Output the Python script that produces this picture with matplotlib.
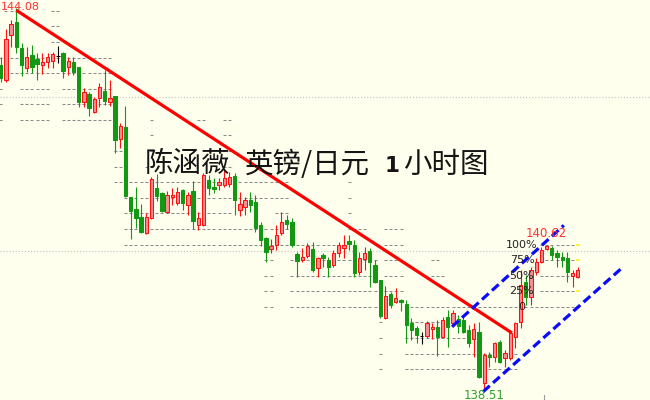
import numpy as np
import matplotlib
matplotlib.use("Agg")
import matplotlib.pyplot as plt
import matplotlib.transforms as mtransforms
from matplotlib.collections import LineCollection

plt.rcParams['lines.scale_dashes'] = False

W, H, DPI = 650, 400, 100
BG = '#ffffee'

# ---------------- data (GBP/JPY 1h candles) ----------------
opens = [143.24, 143.02, 143.68, 143.87, 143.49, 143.20, 143.39, 143.33, 143.24, 143.28,
         143.30, 143.37, 143.42, 143.21, 143.28, 143.21, 142.70, 142.82, 142.55, 142.76,
         142.86, 142.70, 142.79, 142.16, 142.34, 141.31, 141.14, 141.02, 140.79, 141.01,
         141.45, 141.37, 141.09, 141.31, 141.23, 141.42, 141.20, 141.40, 140.91, 140.91,
         141.56, 141.46, 141.49, 141.49, 141.50, 141.62, 141.12, 141.17, 141.27, 141.24,
         140.91, 140.72, 140.55, 140.61, 140.79, 140.98, 140.95, 140.48, 140.39, 140.45,
         140.55, 140.28, 140.47, 140.39, 140.32, 140.50, 140.57, 140.67, 140.61, 140.22,
         140.41, 140.53, 140.32, 140.10, 139.55, 139.90, 139.78, 139.81, 139.75, 139.47,
         139.40, 139.28, 139.28, 139.39, 139.42, 139.27, 139.56, 139.47, 139.53, 139.52,
         139.37, 139.24, 139.34, 138.60, 139.01, 138.98, 139.20, 138.96, 138.96, 139.27,
         139.49, 140.07, 139.85, 140.22, 140.36, 140.55, 140.57, 140.50, 140.44, 140.42,
         140.16, 140.15]
highs = [143.36, 143.77, 143.90, 144.08, 143.56, 143.50, 143.53, 143.42, 143.42, 143.42,
         143.43, 143.52, 143.43, 143.36, 143.36, 143.21, 142.91, 142.85, 142.77, 142.98,
         143.17, 143.02, 142.79, 142.39, 142.64, 141.31, 141.46, 141.21, 141.08, 141.61,
         141.65, 141.39, 141.40, 141.45, 141.46, 141.43, 141.39, 141.55, 141.09, 141.66,
         141.64, 141.59, 141.59, 141.71, 141.68, 141.66, 141.39, 141.31, 141.39, 141.34,
         140.95, 140.73, 140.70, 140.91, 141.09, 141.05, 141.01, 140.51, 140.57, 140.64,
         140.66, 140.44, 140.50, 140.44, 140.54, 140.66, 140.76, 140.76, 140.69, 140.51,
         140.58, 140.57, 140.39, 140.10, 140.01, 139.93, 139.99, 139.82, 139.81, 139.55,
         139.43, 139.34, 139.50, 139.47, 139.52, 139.56, 139.66, 139.66, 139.59, 139.56,
         139.45, 139.47, 139.49, 139.04, 139.05, 139.20, 139.23, 139.08, 139.37, 139.49,
         140.25, 140.18, 140.29, 140.42, 140.58, 140.62, 140.60, 140.54, 140.51, 140.51,
         140.25, 140.29]
lows = [142.99, 142.99, 143.50, 143.42, 143.08, 143.14, 143.12, 143.02, 143.11, 143.20,
        143.20, 143.27, 143.05, 143.10, 143.10, 142.63, 142.63, 142.50, 142.54, 142.63,
        142.66, 142.64, 141.96, 142.03, 141.31, 140.70, 140.86, 140.79, 140.78, 140.99,
        141.26, 141.09, 141.08, 141.20, 141.20, 141.12, 141.05, 140.85, 140.83, 140.89,
        141.34, 141.37, 141.42, 141.46, 141.46, 141.05, 141.04, 141.05, 141.09, 140.80,
        140.60, 140.36, 140.50, 140.54, 140.76, 140.85, 140.58, 140.15, 140.36, 140.42,
        140.22, 140.15, 140.29, 140.15, 140.29, 140.44, 140.42, 140.54, 140.15, 140.18,
        140.25, 140.00, 140.06, 139.55, 139.53, 139.69, 139.77, 139.65, 139.18, 139.23,
        139.18, 139.17, 139.26, 139.24, 138.99, 139.26, 139.12, 139.42, 139.33, 139.33,
        139.12, 138.98, 138.67, 138.51, 138.83, 138.90, 138.89, 138.83, 138.93, 139.11,
        139.40, 139.74, 139.74, 140.18, 140.35, 140.54, 140.39, 140.29, 140.29, 140.07,
        140.00, 140.13]
closes = [143.05, 143.62, 143.84, 143.50, 143.24, 143.36, 143.21, 143.26, 143.28, 143.36,
          143.40, 143.37, 143.15, 143.30, 143.14, 142.70, 142.85, 142.61, 142.74, 142.92,
          142.72, 142.76, 142.15, 142.35, 141.33, 141.11, 141.01, 140.80, 141.02, 141.58,
          141.33, 141.11, 141.34, 141.34, 141.39, 141.23, 141.34, 140.96, 141.01, 141.64,
          141.45, 141.43, 141.53, 141.59, 141.61, 141.27, 141.21, 141.27, 141.20, 140.86,
          140.69, 140.51, 140.60, 140.76, 140.95, 140.92, 140.61, 140.38, 140.44, 140.60,
          140.25, 140.42, 140.42, 140.29, 140.50, 140.61, 140.61, 140.63, 140.20, 140.42,
          140.50, 140.36, 140.07, 139.58, 139.87, 139.74, 139.84, 139.78, 139.45, 139.37,
          139.30, 139.28, 139.47, 139.42, 139.27, 139.52, 139.42, 139.62, 139.43, 139.34,
          139.18, 139.39, 138.69, 139.01, 138.98, 139.18, 138.90, 139.04, 139.33, 139.47,
          140.03, 139.85, 140.25, 140.36, 140.54, 140.60, 140.47, 140.44, 140.39, 140.22,
          140.20, 140.25]

# marked extremes (candle index)
label_top_idx = 3
label_hi_idx = 105
label_lo_idx = 93

# trend line and channel (index, price)
trend_x = [3.0, 98.3]
trend_y = [144.04, 139.33]
chan_up_x = [86.8, 108.3]
chan_up_y = [139.42, 140.90]
chan_lo_x = [92.75, 119.5]
chan_lo_y = [138.47, 140.28]

# Fibonacci retracement
fib_high = 140.62
fib_low = 139.71
fib_ratios = [1.0, 0.75, 0.5, 0.25, 0.0]
fib_labels = ['100%', '75%', '50%', '25%', '0']

# light dotted horizontal lines
dotted_levels = [142.78, 140.53]

# short dashed price-level marks: (level number, first candle, last candle)
level_marks = [
    (0, 1, 3), (0, 10, 11), (1, 10, 11), (2, 10, 11),
    (3, 0, 21), (4, 0, 21),
    (5, 0, 0), (5, 4, 9), (5, 12, 21),
    (6, 0, 0), (6, 4, 9), (6, 12, 21),
    (7, 0, 0), (7, 4, 9), (7, 12, 21), (7, 29, 29), (7, 38, 39), (7, 43, 44),
    (8, 29, 29), (8, 43, 44),
    (9, 22, 23), (9, 29, 29), (9, 43, 44),
    (10, 22, 23), (10, 28, 29), (10, 43, 44),
    (11, 22, 55), (11, 67, 67),
    (12, 24, 55), (12, 67, 67),
    (13, 24, 44), (13, 53, 55), (13, 67, 67),
    (14, 24, 55), (14, 67, 70), (14, 74, 77),
    (15, 24, 66), (15, 74, 77),
    (16, 51, 52), (16, 56, 72), (16, 74, 76), (16, 83, 84),
    (17, 51, 52), (17, 56, 72), (17, 74, 77), (17, 83, 85),
    (18, 51, 52), (18, 56, 72), (18, 74, 77),
    (19, 51, 52), (19, 56, 72), (19, 73, 73), (19, 78, 110),
    (20, 73, 73), (20, 78, 89),
    (21, 73, 73), (21, 78, 91),
    (22, 73, 73), (22, 78, 99),
    (23, 73, 73), (23, 78, 99),
]

title_parts = ['陈涵薇', '英镑/日元', '1', '小时图']

# ---------------- figure ----------------
fig = plt.figure(figsize=(W / DPI, H / DPI), dpi=DPI, facecolor=BG)
ax = fig.add_axes([0, 0, 1, 1])
ax.set_facecolor(BG)
ax.set_xlim(-0.135, 124.87)
ax.set_ylim(138.35, 144.19)
ax.axis('off')

o = np.array(opens); h = np.array(highs); l = np.array(lows); c = np.array(closes)
idx = np.arange(len(o))

# dotted lines
for lv in dotted_levels:
    ax.axhline(lv, color='#c4c4c4', lw=0.9, ls=(0, (0.8, 1.4)), zorder=1)

# level marks
step = (fib_high - fib_low) / 4.0
segs = []
for n, i0, i1 in level_marks:
    lv = fib_high + (15 - n) * step
    for i in range(i0, i1 + 1):
        segs.append([(i - 0.3, lv), (i + 0.3, lv)])
ax.add_collection(LineCollection(segs, colors='#8a8a8a', linewidths=0.75, zorder=1))

# candles
UP_EDGE, UP_FACE = '#ff1010', '#f39090'
DN = '#129812'
for i in idx:
    if c[i] > o[i]:
        ec, fc = UP_EDGE, UP_FACE
    elif c[i] < o[i]:
        ec, fc = DN, DN
    else:
        ec, fc = '#000000', '#000000'
    ax.vlines(i, l[i], h[i], color=ec, lw=0.8, zorder=3)
    bottom = min(o[i], c[i])
    height = max(abs(c[i] - o[i]), 0.004)
    ax.bar(i, height, bottom=bottom, width=0.62, facecolor=fc, edgecolor=ec,
           linewidth=0.75, zorder=4)

# trend line and channel
ax.plot(trend_x, trend_y, color='#ff0000', lw=2.3, zorder=5, solid_capstyle='butt')
ax.plot(chan_up_x, chan_up_y, color='#0a0aff', lw=2.3, ls=(0, (6.5, 3.2)), zorder=6,
        dash_capstyle='butt')
ax.plot(chan_lo_x, chan_lo_y, color='#0a0aff', lw=2.3, ls=(0, (6.5, 3.2)), zorder=6,
        dash_capstyle='butt')

# fibonacci lines and labels
for r, lab in zip(fib_ratios, fib_labels):
    lv = fib_low + r * (fib_high - fib_low)
    if r > 0:
        fsegs = [[(i - 0.3, lv), (i + 0.3, lv)] for i in range(104, 111)]
        ax.add_collection(LineCollection(fsegs, colors='#8a8a8a', linewidths=0.75, zorder=2))
    ax.plot([110.75, 111.2], [lv, lv], color='#ffee00', lw=1.2, zorder=2)
    ax.text(100.25, lv, lab, ha='center', va='center', fontsize=8, color='#222222',
            family='DejaVu Sans', zorder=7)

# price labels
ax.annotate(f"{h[label_top_idx]:.2f}", (label_top_idx, h[label_top_idx]), xytext=(4, 1),
            textcoords='offset pixels', ha='center', va='center', fontsize=8,
            color='#ff3030', zorder=7)
ax.annotate(f"{h[label_hi_idx]:.2f}", (label_hi_idx, h[label_hi_idx]), xytext=(0, 11),
            textcoords='offset pixels', ha='center', va='center', fontsize=8.5,
            color='#ff3030', zorder=7)
ax.annotate(f"{l[label_lo_idx]:.2f}", (label_lo_idx, l[label_lo_idx]), xytext=(0, -6),
            textcoords='offset pixels', ha='center', va='center', fontsize=8.5,
            color='#2ea02e', zorder=7)

# small tick at bottom
trans = mtransforms.blended_transform_factory(ax.transData, ax.transAxes)
ax.plot([104.5, 104.5], [0.0, 0.0125], color='#9a9a9a', lw=0.8, transform=trans, zorder=2)

# title (placed in figure pixels)
def fx(px):
    return px / W

def fy(py):
    return 1 - py / H

cjk = ['Noto Sans CJK SC', 'DejaVu Sans']
base = 172.5
fig.text(fx(145), fy(base), title_parts[0], family=cjk, fontsize=20.5, color='#151515',
         va='baseline', ha='left', weight='light', zorder=10)
fig.text(fx(245), fy(base), title_parts[1], family=cjk, fontsize=20.5, color='#151515',
         va='baseline', ha='left', weight='light', zorder=10)
fig.text(fx(385), fy(base), title_parts[2], family='DejaVu Sans', fontsize=15.5,
         color='#151515', va='baseline', ha='left', weight='bold', zorder=10)
fig.text(fx(403), fy(base), title_parts[3], family=cjk, fontsize=20.5, color='#151515',
         va='baseline', ha='left', weight='light', zorder=10)

fig.savefig('out.png', dpi=DPI, facecolor=BG)
